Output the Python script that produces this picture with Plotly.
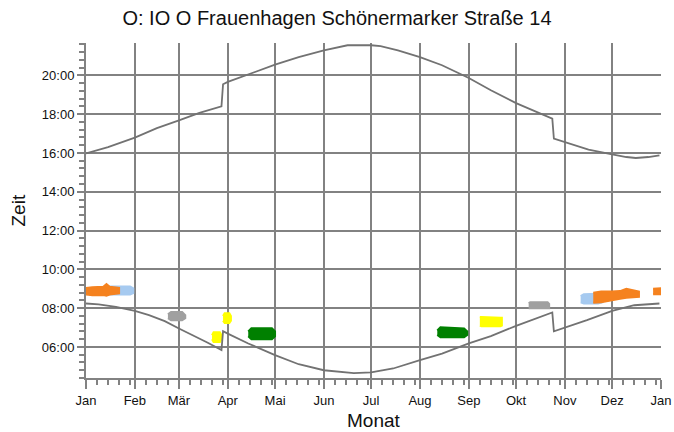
import plotly.graph_objects as go

# ---------------- data ----------------
title_text = "O: IO O Frauenhagen Schönermarker Straße 14"

month_ticks = ["2009-01-01", "2009-02-01", "2009-03-01", "2009-04-01", "2009-05-01", "2009-06-01",
               "2009-07-01", "2009-08-01", "2009-09-01", "2009-10-01", "2009-11-01", "2009-12-01",
               "2010-01-01"]
month_labels = ["Jan", "Feb", "Mär", "Apr", "Mai", "Jun", "Jul", "Aug", "Sep", "Okt", "Nov", "Dez", "Jan"]

hour_ticks = [6, 8, 10, 12, 14, 16, 18, 20]
hour_labels = ["06:00", "08:00", "10:00", "12:00", "14:00", "16:00", "18:00", "20:00"]

# sunrise (lower curve), hours
sunrise_dates = ["2009-01-01", "2009-01-09", "2009-01-20", "2009-02-01", "2009-02-10", "2009-02-20",
                 "2009-03-01", "2009-03-10", "2009-03-19", "2009-03-28", "2009-03-29", "2009-04-01",
                 "2009-04-14", "2009-05-01", "2009-05-16", "2009-06-01", "2009-06-20", "2009-07-01",
                 "2009-07-15", "2009-08-01", "2009-08-15", "2009-09-01", "2009-09-15", "2009-10-01",
                 "2009-10-15", "2009-10-24", "2009-10-25", "2009-11-01", "2009-11-15", "2009-12-01",
                 "2009-12-15", "2009-12-31"]
sunrise_hours = [8.24, 8.19, 8.07, 7.86, 7.64, 7.33,
                 6.95, 6.61, 6.23, 5.84, 6.81, 6.69,
                 6.18, 5.58, 5.11, 4.80, 4.65, 4.69,
                 4.89, 5.32, 5.66, 6.18, 6.56, 7.09,
                 7.50, 7.78, 6.81, 7.00, 7.38, 7.86,
                 8.15, 8.24]

# sunset (upper curve), hours
sunset_dates = ["2009-01-01", "2009-01-15", "2009-02-01", "2009-02-15", "2009-03-01", "2009-03-14",
                "2009-03-28", "2009-03-29", "2009-04-01", "2009-04-15", "2009-05-01", "2009-05-16",
                "2009-06-01", "2009-06-16", "2009-07-01", "2009-07-07", "2009-07-18", "2009-08-01",
                "2009-08-15", "2009-09-01", "2009-09-15", "2009-10-01", "2009-10-15", "2009-10-24",
                "2009-10-25", "2009-11-01", "2009-11-16", "2009-12-01", "2009-12-10", "2009-12-16",
                "2009-12-24", "2009-12-31"]
sunset_hours = [15.98, 16.30, 16.79, 17.28, 17.68, 18.06,
                18.40, 19.54, 19.66, 20.09, 20.55, 20.94,
                21.29, 21.55, 21.55, 21.51, 21.29, 20.94,
                20.52, 19.86, 19.23, 18.57, 18.06, 17.77,
                16.74, 16.56, 16.17, 15.93, 15.79, 15.74,
                15.79, 15.88]

# shadow periods: dates, start hour, end hour
orange_jan_dates = ["2009-01-01", "2009-01-05", "2009-01-12", "2009-01-14", "2009-01-16", "2009-01-22"]
orange_jan_start = [8.70, 8.66, 8.68, 8.64, 8.70, 8.76]
orange_jan_end = [9.04, 9.08, 9.10, 9.24, 9.10, 9.04]

orange_dec_dates = ["2009-11-19", "2009-11-24", "2009-12-01", "2009-12-06", "2009-12-10", "2009-12-18"]
orange_dec_start = [8.28, 8.30, 8.40, 8.48, 8.54, 8.58]
orange_dec_end = [8.80, 8.86, 8.86, 8.88, 9.00, 8.86]

orange_end_dates = ["2009-12-27", "2010-01-01"]
orange_end_start = [8.72, 8.72]
orange_end_end = [9.00, 9.03]

blue_jan_dates = ["2009-01-14", "2009-01-16", "2009-01-29", "2009-01-31"]
blue_jan_start = [8.76, 8.70, 8.70, 8.78]
blue_jan_end = [9.04, 9.12, 9.12, 9.02]

blue_nov_dates = ["2009-11-11", "2009-11-13", "2009-11-22", "2009-11-25"]
blue_nov_start = [8.30, 8.24, 8.24, 8.30]
blue_nov_end = [8.62, 8.72, 8.74, 8.74]

gray_mar_dates = ["2009-02-22", "2009-02-24", "2009-03-03", "2009-03-05"]
gray_mar_start = [7.48, 7.38, 7.38, 7.48]
gray_mar_end = [7.68, 7.80, 7.80, 7.64]

gray_oct_dates = ["2009-10-09", "2009-10-10", "2009-10-21", "2009-10-22"]
gray_oct_start = [8.00, 8.00, 8.00, 8.00]
gray_oct_end = [8.25, 8.31, 8.31, 8.22]

yellow_mar_dates = ["2009-03-22", "2009-03-23", "2009-03-27", "2009-03-28"]
yellow_mar_start = [6.40, 6.25, 6.25, 6.40]
yellow_mar_end = [6.60, 6.76, 6.76, 6.60]

yellow_apr_dates = ["2009-03-29", "2009-03-30", "2009-04-02", "2009-04-03"]
yellow_apr_start = [7.35, 7.23, 7.23, 7.35]
yellow_apr_end = [7.60, 7.74, 7.74, 7.60]

yellow_sep_dates = ["2009-09-08", "2009-09-09", "2009-09-21", "2009-09-22"]
yellow_sep_start = [7.10, 7.07, 7.07, 7.10]
yellow_sep_end = [7.54, 7.54, 7.50, 7.50]

green_apr_dates = ["2009-04-14", "2009-04-16", "2009-04-29", "2009-05-01"]
green_apr_start = [6.55, 6.40, 6.40, 6.55]
green_apr_end = [6.80, 6.97, 6.97, 6.80]

green_aug_dates = ["2009-08-12", "2009-08-14", "2009-08-29", "2009-08-31"]
green_aug_start = [6.62, 6.50, 6.50, 6.62]
green_aug_end = [6.85, 7.02, 6.95, 6.80]

# ---------------- figure ----------------
FONT = "Liberation Sans, Arial, sans-serif"
GRID = "#828282"
CURVE = "#727272"

W, H = 674, 432
L, R, T, B = 86, 13, 43, 54
PW = W - L - R
PH = H - T - B

fig = go.Figure()


def add_blobs(blobs, color):
    xs, ys = [], []
    for dates, start, end in blobs:
        xs += list(dates) + list(dates[::-1]) + [None]
        ys += list(end) + list(start[::-1]) + [None]
    fig.add_trace(go.Scatter(x=xs, y=ys, mode="lines", fill="toself", fillcolor=color,
                             line=dict(color=color, width=2), hoverinfo="skip", showlegend=False))


add_blobs([(blue_jan_dates, blue_jan_start, blue_jan_end),
           (blue_nov_dates, blue_nov_start, blue_nov_end)], "#A6CAF0")
add_blobs([(orange_jan_dates, orange_jan_start, orange_jan_end),
           (orange_dec_dates, orange_dec_start, orange_dec_end),
           (orange_end_dates, orange_end_start, orange_end_end)], "#F5821F")
add_blobs([(gray_mar_dates, gray_mar_start, gray_mar_end),
           (gray_oct_dates, gray_oct_start, gray_oct_end)], "#A0A0A0")
add_blobs([(yellow_mar_dates, yellow_mar_start, yellow_mar_end),
           (yellow_apr_dates, yellow_apr_start, yellow_apr_end),
           (yellow_sep_dates, yellow_sep_start, yellow_sep_end)], "#FFFF00")
add_blobs([(green_apr_dates, green_apr_start, green_apr_end),
           (green_aug_dates, green_aug_start, green_aug_end)], "#008000")

fig.add_trace(go.Scatter(x=sunrise_dates, y=sunrise_hours, mode="lines",
                         line=dict(color=CURVE, width=1.8), showlegend=False))
fig.add_trace(go.Scatter(x=sunset_dates, y=sunset_hours, mode="lines",
                         line=dict(color=CURVE, width=1.8), showlegend=False))

# minor x ticks on day 8, 15, 22, 29 of each month
minor_x = [f"2009-{m:02d}-{d:02d}" for m in range(1, 13) for d in (8, 15, 22, 29)
           if not (m == 2 and d == 29)]

fig.update_layout(
    width=W, height=H,
    margin=dict(l=L, r=R, t=T, b=B, autoexpand=False),
    paper_bgcolor="white", plot_bgcolor="white",
    font=dict(family=FONT, size=13, color="#111111"),
    title=dict(text=title_text, x=337 / W, xref="container", xanchor="center",
               y=1 - 18 / H, yanchor="middle", font=dict(family=FONT, size=20, color="#111111")),
    xaxis=dict(type="date", range=["2009-01-01", "2010-01-01"], automargin=False,
               tickmode="array", tickvals=month_ticks, ticktext=month_labels,
               ticklabeloverflow="allow",
               showgrid=True, gridcolor=GRID, gridwidth=2,
               showline=True, linecolor=GRID, linewidth=2,
               ticks="outside", ticklen=9, tickwidth=2, tickcolor=GRID,
               minor=dict(tickmode="array", tickvals=minor_x, ticks="outside",
                          ticklen=5, tickwidth=2, tickcolor=GRID, showgrid=False),
               tickfont=dict(family=FONT, size=13, color="#111111"),
               zeroline=False, fixedrange=True),
    yaxis=dict(range=[4.4, 21.667], automargin=False,
               tickmode="array", tickvals=hour_ticks, ticktext=hour_labels,
               showgrid=True, gridcolor=GRID, gridwidth=2,
               showline=True, linecolor=GRID, linewidth=2,
               ticks="outside", ticklen=7, tickwidth=2, tickcolor=GRID,
               minor=dict(tickmode="linear", tick0=0, dtick=0.4, ticks="outside",
                          ticklen=5, tickwidth=2, tickcolor=GRID, showgrid=False),
               tickfont=dict(family=FONT, size=13, color="#111111"),
               zeroline=False, fixedrange=True),
    annotations=[
        dict(text="Zeit", xref="paper", yref="paper", x=(18 - L) / PW, y=0.5,
             xanchor="center", yanchor="middle", textangle=-90, showarrow=False,
             font=dict(family=FONT, size=19, color="#111111")),
        dict(text="Monat", xref="paper", yref="paper", x=0.5, y=-(420 - 378) / PH,
             xanchor="center", yanchor="middle", showarrow=False,
             font=dict(family=FONT, size=19, color="#111111")),
    ],
)

fig.write_html("out.html", config={"displayModeBar": False},
               post_script="document.body.style.margin='0';document.body.style.overflow='hidden';")
